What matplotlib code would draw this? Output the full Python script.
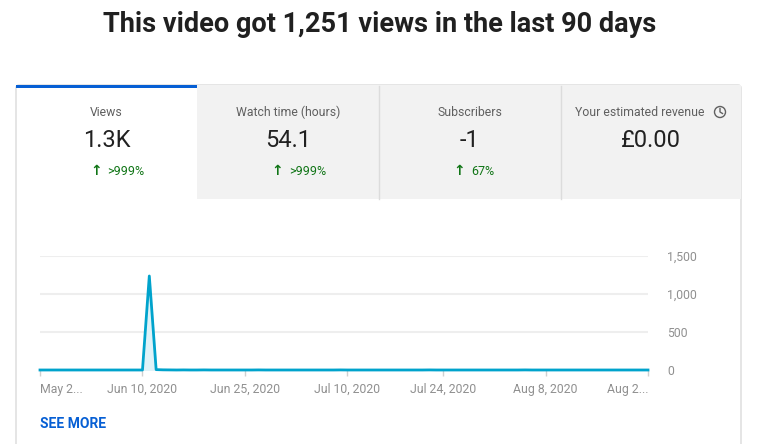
import matplotlib
matplotlib.use('Agg')
import matplotlib.pyplot as plt
import matplotlib.patches as patches
import pandas as pd

plt.rcParams['font.family'] = ['Roboto', 'DejaVu Sans']

# daily views, May 26 - Aug 23 2020
dates = pd.date_range('2020-05-26', periods=90, freq='D')
views = [
    0, 0, 0, 0, 0, 0, 0, 0, 0, 0,
    0, 0, 0, 0, 0, 0, 1237, 5, 2, 1,
    0, 1, 0, 0, 1, 0, 0, 0, 0, 0,
    0, 0, 1, 0, 0, 0, 0, 0, 0, 0,
    0, 0, 0, 0, 1, 0, 0, 0, 0, 0,
    0, 0, 0, 0, 0, 0, 0, 1, 0, 0,
    0, 0, 0, 0, 0, 0, 0, 0, 0, 0,
    0, 1, 0, 0, 0, 0, 0, 0, 0, 0,
    0, 0, 0, 0, 0, 0, 0, 0, 0, 0,
]

tab_titles = ['Views', 'Watch time (hours)', 'Subscribers', 'Your estimated revenue']
tab_values = ['1.3K', '54.1', '-1', '£0.00']
tab_changes = ['>999%', '>999%', '67%', None]

y_ticks = [0, 500, 1000, 1500]
x_tick_dates = ['2020-05-26', '2020-06-10', '2020-06-25', '2020-07-10',
                '2020-07-24', '2020-08-08', '2020-08-23']
x_tick_labels = ['May 2...', 'Jun 10, 2020', 'Jun 25, 2020', 'Jul 10, 2020',
                 'Jul 24, 2020', 'Aug 8, 2020', 'Aug 2...']

W, H = 757, 444
fig = plt.figure(figsize=(W / 100, H / 100), dpi=100)

# background layer in pixel coordinates
bg = fig.add_axes([0, 0, 1, 1])
bg.set_xlim(0, W)
bg.set_ylim(H, 0)
bg.axis('off')

bg.text(380, 25, 'This video got 1,251 views in the last 90 days', ha='center', va='center',
        fontsize=19.5, fontweight='bold', color='#202020')

# card
bg.add_patch(patches.FancyBboxPatch((16, 85), 725, 400, boxstyle='round,pad=0,rounding_size=3',
                                    facecolor='white', edgecolor='#dadada', lw=1))
tab_edges = [16, 197, 379, 561, 741]
for i in range(4):
    x0, x1 = tab_edges[i], tab_edges[i + 1]
    if i > 0:
        bg.add_patch(patches.Rectangle((x0, 85.5), x1 - x0 - (0.5 if i == 3 else 0), 114,
                                       facecolor='#f2f2f2', edgecolor='none'))
    cx = (x0 + x1) / 2
    if i == 3:
        bg.text(cx - 11, 112, tab_titles[i], ha='center', va='center', fontsize=8.8, color='#606060')
        bg.add_patch(patches.Circle((720, 112), 5.5, facecolor='none', edgecolor='#606060', lw=1))
        bg.plot([720, 720, 722.5], [108.5, 112, 113.5], color='#606060', lw=1)
    else:
        bg.text(cx, 112, tab_titles[i], ha='center', va='center', fontsize=8.8, color='#606060')
    bg.text(cx, 140, tab_values[i], ha='center', va='center', fontsize=17, color='#212121')
    if tab_changes[i]:
        bg.text(cx - 5, 171, '\u2191', ha='right', va='center', fontsize=10, fontweight='bold',
                color='#107516', family=['DejaVu Sans'])
        bg.text(cx + 1, 171, tab_changes[i], ha='left', va='center', fontsize=9, color='#107516')
for x in [379, 561]:
    bg.plot([x, x], [86, 199], color='#dcdcdc', lw=1)
bg.add_patch(patches.Rectangle((16, 85), 181, 3, facecolor='#065fd4', edgecolor='none'))

bg.text(40, 424, 'SEE MORE', ha='left', va='center', fontsize=10, fontweight='bold', color='#065fd4')

# chart
x_left, x_right, y_zero, y_top = 40, 648, 370, 256
ax = fig.add_axes([x_left / W, (H - y_zero) / H, (x_right - x_left) / W, (y_zero - y_top) / H])
ax.set_facecolor('none')
ax.fill_between(dates, views, 0, color='#dff2f8', zorder=2)
ax.plot(dates, views, color='#00a3cc', lw=2, zorder=3, clip_on=False)
ax.set_xlim(dates[0], dates[-1])
ax.set_ylim(0, 1500)

ax.yaxis.tick_right()
ax.set_yticks(y_ticks)
ax.set_yticklabels([f'{v:,}' for v in y_ticks])
ax.tick_params(axis='y', length=0, pad=14, labelsize=8.8, labelcolor='#909090')
ax.grid(axis='y', color='#eeeeee', lw=1.5, zorder=1)

ax.set_xticks(pd.to_datetime(x_tick_dates))
ax.set_xticklabels(x_tick_labels)
ax.tick_params(axis='x', length=4, width=1, color='#d0d0d0', pad=5, labelsize=8.8, labelcolor='#909090')
xlabels = ax.get_xticklabels()
xlabels[0].set_ha('left')
xlabels[-1].set_ha('right')
for s in ax.spines.values():
    s.set_visible(False)

fig.savefig('out.png', dpi=100)
